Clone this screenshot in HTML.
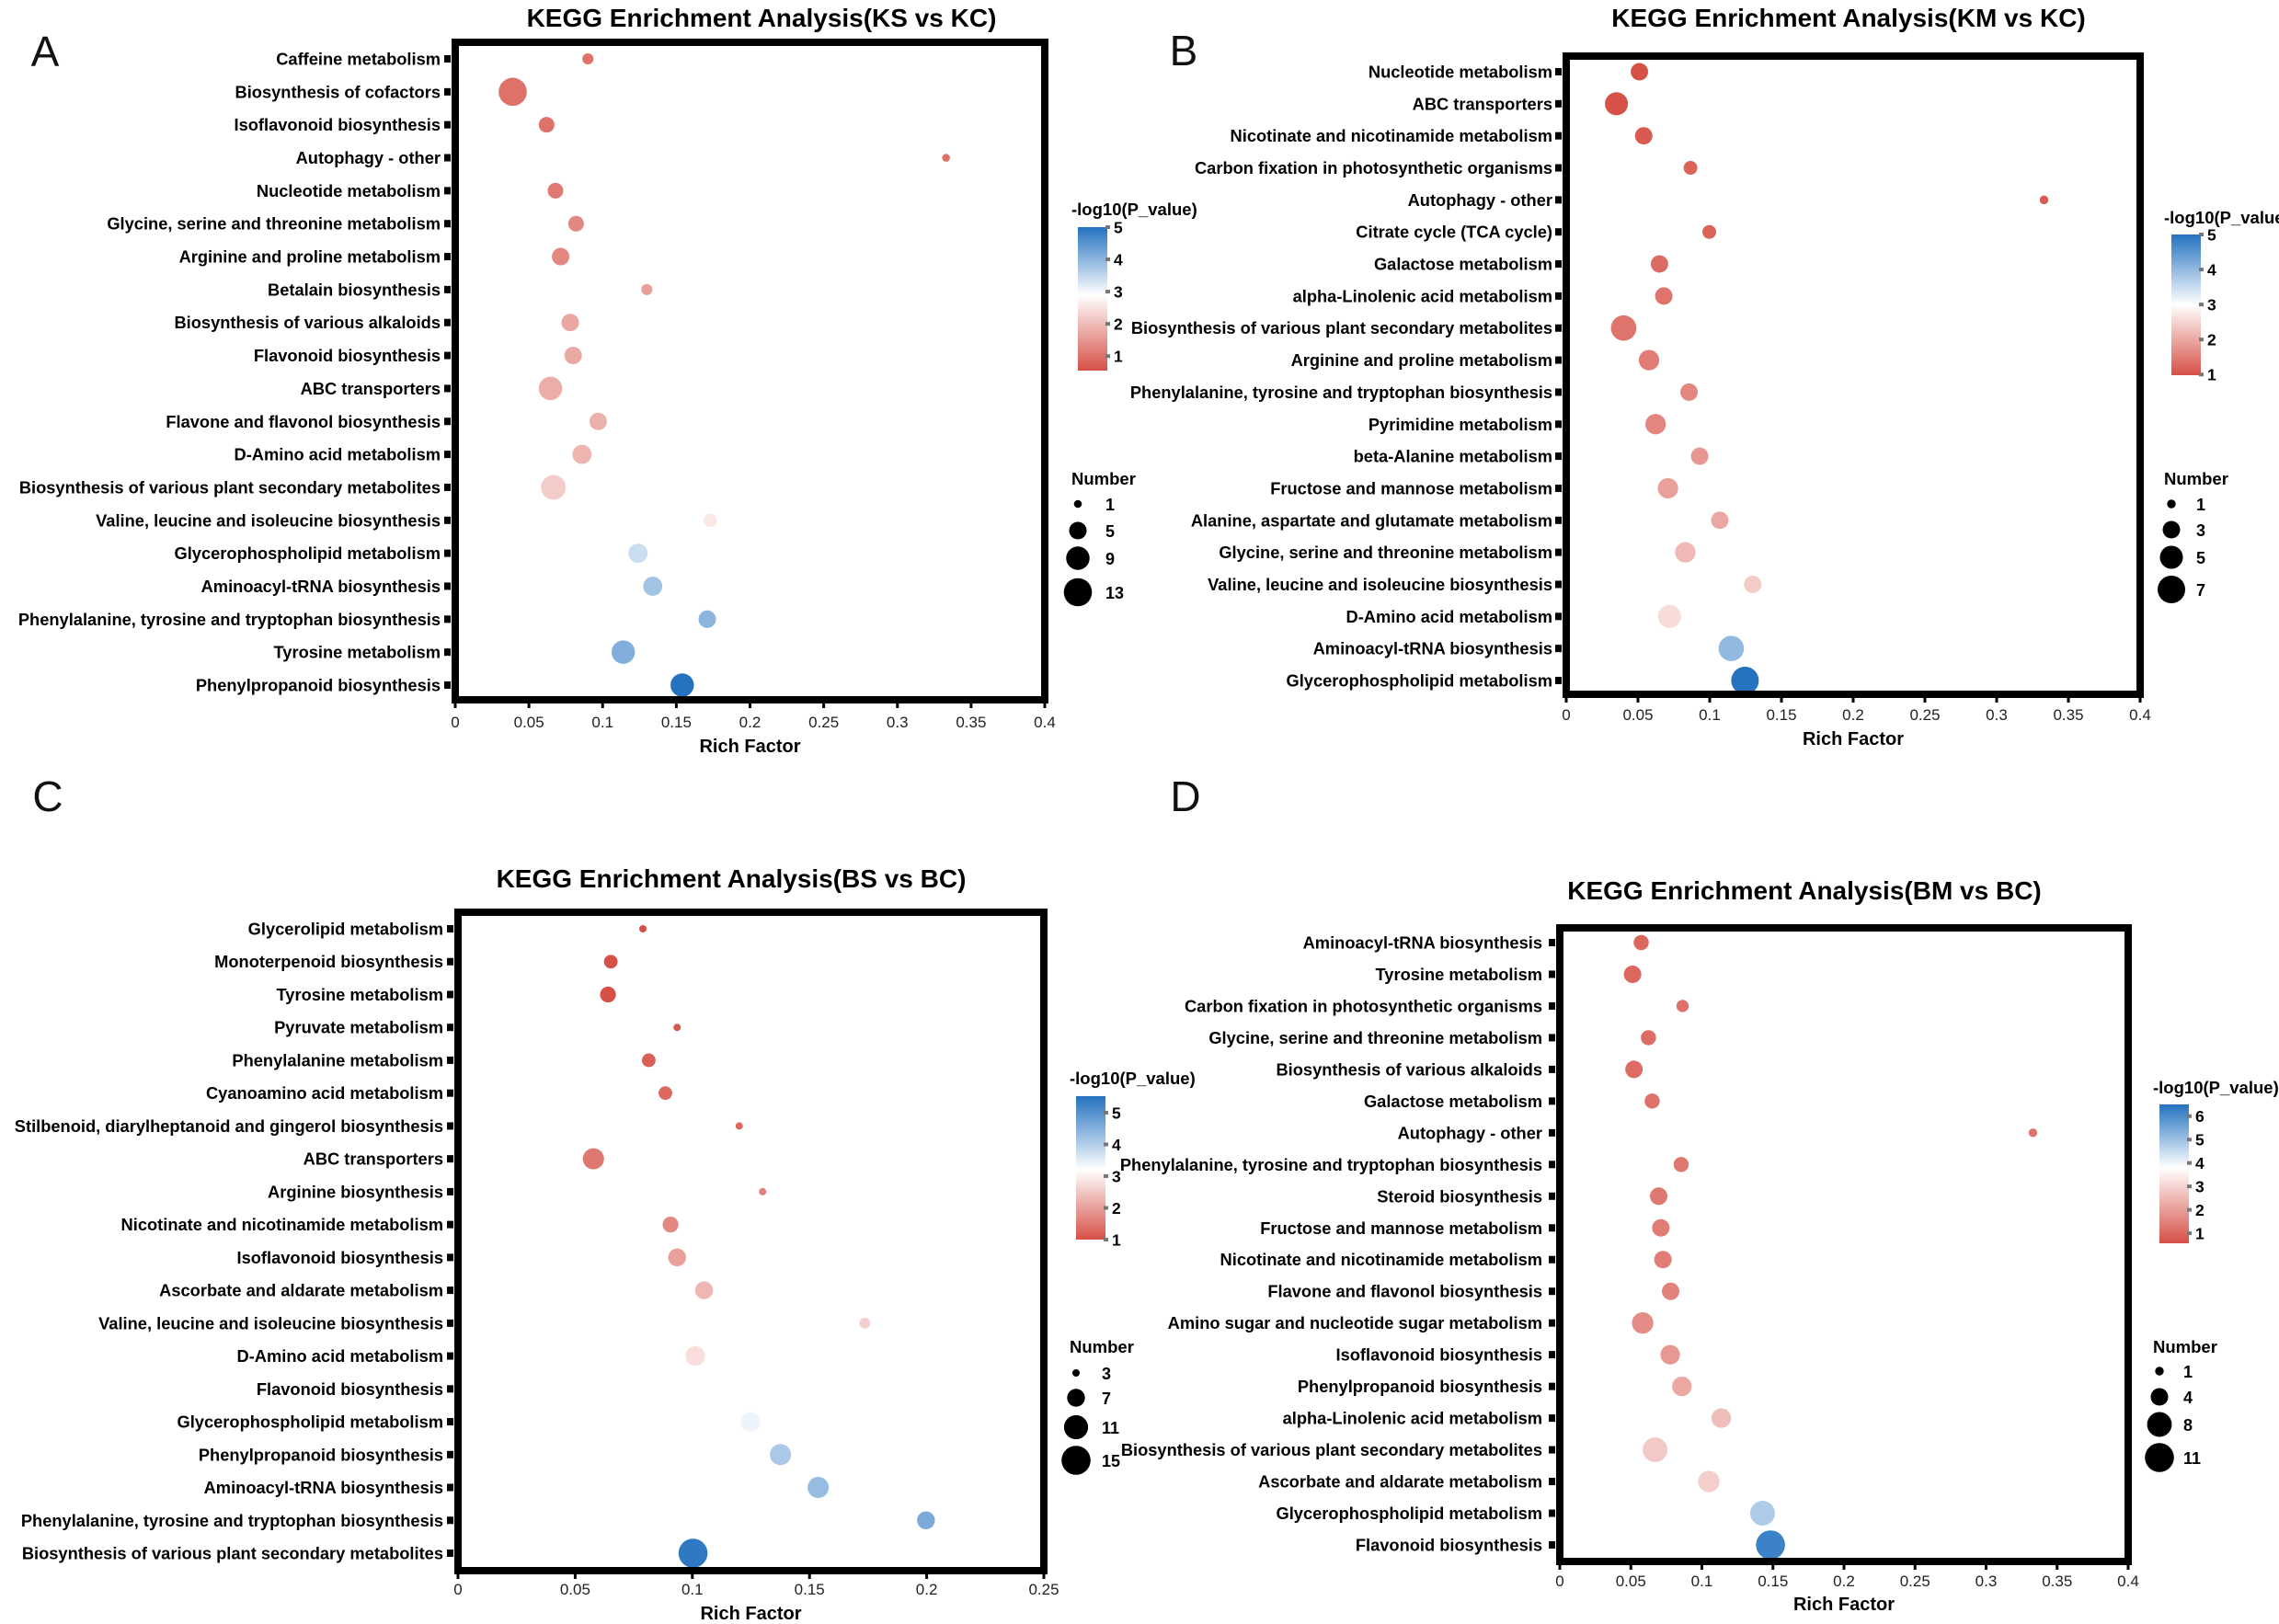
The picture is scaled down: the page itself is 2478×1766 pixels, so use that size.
<!DOCTYPE html>
<html><head><meta charset="utf-8"><style>
html,body{margin:0;padding:0;background:#fff;}
svg{display:block;font-family:"Liberation Sans",Arial,sans-serif;}
</style></head><body>
<svg id="fig" width="2478" height="1766" viewBox="0 0 2478 1766" xmlns="http://www.w3.org/2000/svg">
<defs></defs>
</svg>
<script>
// ---- Panel A data (KS vs KC)
const catsA = ["Caffeine metabolism","Biosynthesis of cofactors","Isoflavonoid biosynthesis","Autophagy - other","Nucleotide metabolism","Glycine, serine and threonine metabolism","Arginine and proline metabolism","Betalain biosynthesis","Biosynthesis of various alkaloids","Flavonoid biosynthesis","ABC transporters","Flavone and flavonol biosynthesis","D-Amino acid metabolism","Biosynthesis of various plant secondary metabolites","Valine, leucine and isoleucine biosynthesis","Glycerophospholipid metabolism","Aminoacyl-tRNA biosynthesis","Phenylalanine, tyrosine and tryptophan biosynthesis","Tyrosine metabolism","Phenylpropanoid biosynthesis"];
const richA = [0.090,0.039,0.062,0.333,0.068,0.082,0.0715,0.130,0.078,0.080,0.0646,0.097,0.086,0.0666,0.173,0.124,0.134,0.171,0.114,0.154];
const pA = [1.0,1.0,1.0,1.0,1.1,1.3,1.3,1.6,1.7,1.75,1.8,1.85,1.9,2.2,2.6,3.4,3.8,4.0,4.1,5.0];
const numA = [2,13,4,1,4,4,5,2,5,5,9,5,6,10,3,6,6,5,9,9];
const cbTicksA = [1,2,3,4,5];
const legCountsA = [1,5,9,13];

// ---- Panel B data (KM vs KC)
const catsB = ["Nucleotide metabolism","ABC transporters","Nicotinate and nicotinamide metabolism","Carbon fixation in photosynthetic organisms","Autophagy - other","Citrate cycle (TCA cycle)","Galactose metabolism","alpha-Linolenic acid metabolism","Biosynthesis of various plant secondary metabolites","Arginine and proline metabolism","Phenylalanine, tyrosine and tryptophan biosynthesis","Pyrimidine metabolism","beta-Alanine metabolism","Fructose and mannose metabolism","Alanine, aspartate and glutamate metabolism","Glycine, serine and threonine metabolism","Valine, leucine and isoleucine biosynthesis","D-Amino acid metabolism","Aminoacyl-tRNA biosynthesis","Glycerophospholipid metabolism"];
const richB = [0.051,0.035,0.054,0.0866,0.333,0.0997,0.065,0.068,0.040,0.0577,0.0856,0.0623,0.093,0.0709,0.107,0.083,0.130,0.072,0.115,0.1246];
const pB = [1.0,1.0,1.1,1.2,1.1,1.2,1.3,1.4,1.4,1.5,1.6,1.6,1.8,1.9,2.0,2.2,2.4,2.6,4.0,5.0];
const numB = [3,5,3,2,1,2,3,3,6,4,3,4,3,4,3,4,3,5,6,7];
const cbTicksB = [1,2,3,4,5];
const legCountsB = [1,3,5,7];

// ---- Panel C data (BS vs BC)
const catsC = ["Glycerolipid metabolism","Monoterpenoid biosynthesis","Tyrosine metabolism","Pyruvate metabolism","Phenylalanine metabolism","Cyanoamino acid metabolism","Stilbenoid, diarylheptanoid and gingerol biosynthesis","ABC transporters","Arginine biosynthesis","Nicotinate and nicotinamide metabolism","Isoflavonoid biosynthesis","Ascorbate and aldarate metabolism","Valine, leucine and isoleucine biosynthesis","D-Amino acid metabolism","Flavonoid biosynthesis","Glycerophospholipid metabolism","Phenylpropanoid biosynthesis","Aminoacyl-tRNA biosynthesis","Phenylalanine, tyrosine and tryptophan biosynthesis","Biosynthesis of various plant secondary metabolites"];
const richC = [0.0789,0.0652,0.064,0.0935,0.0814,0.0885,0.120,0.0578,0.130,0.0907,0.0935,0.105,0.1736,0.1012,0.1078,0.1248,0.1376,0.1537,0.1997,0.1003];
const pC = [1.0,1.0,1.0,1.1,1.2,1.3,1.3,1.5,1.6,1.7,2.0,2.3,2.6,2.8,3.2,3.4,4.1,4.3,4.6,5.4];
const numC = [3,5,6,3,5,5,3,9,3,6,7,7,4,8,8,8,9,9,7,15];
const cbTicksC = [1,2,3,4,5];
const legCountsC = [3,7,11,15];

// ---- Panel D data (BM vs BC)
const catsD = ["Aminoacyl-tRNA biosynthesis","Tyrosine metabolism","Carbon fixation in photosynthetic organisms","Glycine, serine and threonine metabolism","Biosynthesis of various alkaloids","Galactose metabolism","Autophagy - other","Phenylalanine, tyrosine and tryptophan biosynthesis","Steroid biosynthesis","Fructose and mannose metabolism","Nicotinate and nicotinamide metabolism","Flavone and flavonol biosynthesis","Amino sugar and nucleotide sugar metabolism","Isoflavonoid biosynthesis","Phenylpropanoid biosynthesis","alpha-Linolenic acid metabolism","Biosynthesis of various plant secondary metabolites","Ascorbate and aldarate metabolism","Glycerophospholipid metabolism","Flavonoid biosynthesis"];
const richD = [0.0573,0.0512,0.0864,0.0624,0.0522,0.065,0.333,0.0854,0.0696,0.0711,0.0726,0.078,0.0583,0.0777,0.0859,0.1136,0.067,0.1049,0.1427,0.1483];
const pD = [1.0,1.0,1.2,1.1,1.1,1.2,1.2,1.3,1.3,1.4,1.4,1.5,1.7,1.9,2.2,2.6,2.8,2.9,4.8,6.2];
const numD = [3,4,2,3,4,3,1,3,4,4,4,4,6,5,5,5,8,6,8,11];
const cbTicksD = [1,2,3,4,5,6];
const legCountsD = [1,4,8,11];

const NS = "http://www.w3.org/2000/svg";
const svg = document.getElementById('fig');
function el(tag, attrs, parent, text){
  const e = document.createElementNS(NS, tag);
  for (const k in attrs) e.setAttribute(k, attrs[k]);
  if (text !== undefined) e.textContent = text;
  (parent||svg).appendChild(e);
  return e;
}
const RED=[214,80,70], WHITE=[255,255,255], BLUE=[36,114,192];
function mix(a,b,t){return a.map((v,i)=>Math.round(v+(b[i]-v)*t));}
function colorOf(v, cfg){
  let c;
  if (v <= cfg.mid){ const t=Math.max(0,(v-cfg.vmin)/(cfg.mid-cfg.vmin)); c=mix(RED,WHITE,Math.min(1,t)); }
  else { const t=Math.min(1,(v-cfg.mid)/(cfg.vmax-cfg.mid)); c=mix(WHITE,BLUE,t); }
  return 'rgb('+c.join(',')+')';
}

let gradId = 0;
function panel(cfg, cats, rich, pv, num, cbTicks, legCounts){
  const g = el('g', {});
  
  
  const xs = v => cfg.x0 + (cfg.x1-cfg.x0)*v/cfg.xmax;
  const ys = i => cfg.catTop + (cfg.catBot-cfg.catTop)*i/(cats.length-1);
  const rad = n => Math.sqrt(cfg.rmin*cfg.rmin + (n-cfg.nmin)/(cfg.nmax-cfg.nmin)*(cfg.rmax*cfg.rmax-cfg.rmin*cfg.rmin));

  const letter = el('text', {x:cfg.lx, y:cfg.ly+16, 'font-size':46, 'text-anchor':'middle', fill:'#111'}, g, cfg.letter);
  
  

  const title = el('text', {x:cfg.tx, y:cfg.ty+10, 'font-size':28, 'font-weight':'bold', 'text-anchor':'middle'}, g, cfg.title);
  
  

  cats.forEach((c,i)=>{
    const t = el('text', {x:cfg.labelRight, y:ys(i)+6.5, 'font-size':18.3, 'font-weight':'bold', 'text-anchor':'end'}, g, c);
    
    
    const tk = el('rect', {x:cfg.x0-12, y:ys(i)-4, width:7, height:8, fill:'#000'}, g);
    
    
  });

  cats.forEach((c,i)=>{
    const pt = el('circle', {cx:xs(rich[i]), cy:ys(i), r:rad(num[i]), fill:colorOf(pv[i],cfg)}, g);
    
    
  });

  const fr = el('rect', {x:cfg.x0, y:cfg.fTop, width:cfg.x1-cfg.x0, height:cfg.fBot-cfg.fTop, fill:'none', stroke:'#000', 'stroke-width':8}, g);
  
  

  const nT = Math.round(cfg.xmax/0.05);
  for (let k=0;k<=nT;k++){
    const v = +(k*0.05).toFixed(2);
    const tk = el('line', {x1:xs(v), x2:xs(v), y1:cfg.fBot, y2:cfg.fBot+9, stroke:'#000', 'stroke-width':3}, g);
    
    
    const tl = el('text', {x:xs(v), y:cfg.tickY+6, 'font-size':17, 'text-anchor':'middle', fill:'#222'}, g, String(v));
    
    
  }
  const xt = el('text', {x:(cfg.x0+cfg.x1)/2, y:cfg.axY+7, 'font-size':20, 'font-weight':'bold', 'text-anchor':'middle'}, g, 'Rich Factor');
  
  

  const id = 'grad'+(gradId++);
  const defs = svg.querySelector('defs');
  const lg = el('linearGradient', {id:id, x1:0, y1:1, x2:0, y2:0}, defs);
  const midFrac = (cfg.mid-cfg.vmin)/(cfg.vmax-cfg.vmin);
  el('stop', {offset:0, 'stop-color':'rgb('+RED.join(',')+')'}, lg);
  el('stop', {offset:midFrac, 'stop-color':'#fff'}, lg);
  el('stop', {offset:1, 'stop-color':'rgb('+BLUE.join(',')+')'}, lg);
  const cbT = el('text', {x:cfg.cbTx, y:cfg.cbTy+7, 'font-size':18.5, 'font-weight':'bold'}, g, '-log10(P_value)');
  
  
  const cb = el('rect', {x:cfg.cbx, y:cfg.cbTop, width:32, height:cfg.cbBot-cfg.cbTop, fill:'url(#'+id+')'}, g);
  
  
  const cby = v => cfg.cbBot - (v-cfg.vmin)/(cfg.vmax-cfg.vmin)*(cfg.cbBot-cfg.cbTop);
  cbTicks.forEach(v=>{
    const tk = el('rect', {x:cfg.cbx+30, y:cby(v)-2, width:5, height:4, fill:'#777'}, g);
    
    
    const tl = el('text', {x:cfg.cbx+39, y:cby(v)+6.5, 'font-size':17.5, 'font-weight':'bold'}, g, String(v));
    
    
  });

  const lt = el('text', {x:cfg.cbTx, y:cfg.legTy+7, 'font-size':18.5, 'font-weight':'bold'}, g, 'Number');
  
  
  legCounts.forEach((n,i)=>{
    const y = cfg.legYs[i];
    const c = el('circle', {cx:cfg.cbx, cy:y, r:rad(n), fill:'#000'}, g);
    
    
    const t = el('text', {x:cfg.legLx, y:y+7, 'font-size':18, 'font-weight':'bold'}, g, String(n));
    
    
  });
}

panel({letter:'A', lx:49, ly:56, title:'KEGG Enrichment Analysis(KS vs KC)', tx:828, ty:19,
  x0:495, x1:1136, xmax:0.4, fTop:46, fBot:761, catTop:64, catBot:745, labelRight:479, tickY:785, axY:811,
  cbx:1172, cbTop:247, cbBot:403, vmin:0.55, vmax:5, mid:2.9, cbTx:1165, cbTy:227,
  legTy:520, legYs:[548,577,607,644], legLx:1202, nmin:1, nmax:13, rmin:4.3, rmax:15.3},
  catsA, richA, pA, numA, cbTicksA, legCountsA);

panel({letter:'B', lx:1287, ly:55, title:'KEGG Enrichment Analysis(KM vs KC)', tx:2010, ty:19,
  x0:1703, x1:2327, xmax:0.4, fTop:61, fBot:755, catTop:78, catBot:740, labelRight:1688, tickY:777, axY:803,
  cbx:2361, cbTop:255, cbBot:408, vmin:0.98, vmax:5, mid:3, cbTx:2353, cbTy:236,
  legTy:520, legYs:[548,576,606,641], legLx:2388, nmin:1, nmax:7, rmin:4.7, rmax:15},
  catsB, richB, pB, numB, cbTicksB, legCountsB);

panel({letter:'C', lx:52, ly:866, title:'KEGG Enrichment Analysis(BS vs BC)', tx:795, ty:955,
  x0:498, x1:1135, xmax:0.25, fTop:992, fBot:1708, catTop:1010, catBot:1689, labelRight:482, tickY:1728, axY:1754,
  cbx:1170, cbTop:1192, cbBot:1348, vmin:1.0, vmax:5.52, mid:3.2, cbTx:1163, cbTy:1172,
  legTy:1464, legYs:[1493,1520,1552,1588], legLx:1198, nmin:3, nmax:15, rmin:4, rmax:15.8},
  catsC, richC, pC, numC, cbTicksC, legCountsC);

panel({letter:'D', lx:1289, ly:866, title:'KEGG Enrichment Analysis(BM vs BC)', tx:1962, ty:968,
  x0:1696, x1:2314, xmax:0.4, fTop:1009, fBot:1698, catTop:1025, catBot:1680, labelRight:1677, tickY:1719, axY:1744,
  cbx:2348, cbTop:1201, cbBot:1352, vmin:0.57, vmax:6.5, mid:3.8, cbTx:2341, cbTy:1182,
  legTy:1464, legYs:[1491,1519,1549,1585], legLx:2374, nmin:1, nmax:11, rmin:4.7, rmax:15.8},
  catsD, richD, pD, numD, cbTicksD, legCountsD);
</script>
</body></html>
